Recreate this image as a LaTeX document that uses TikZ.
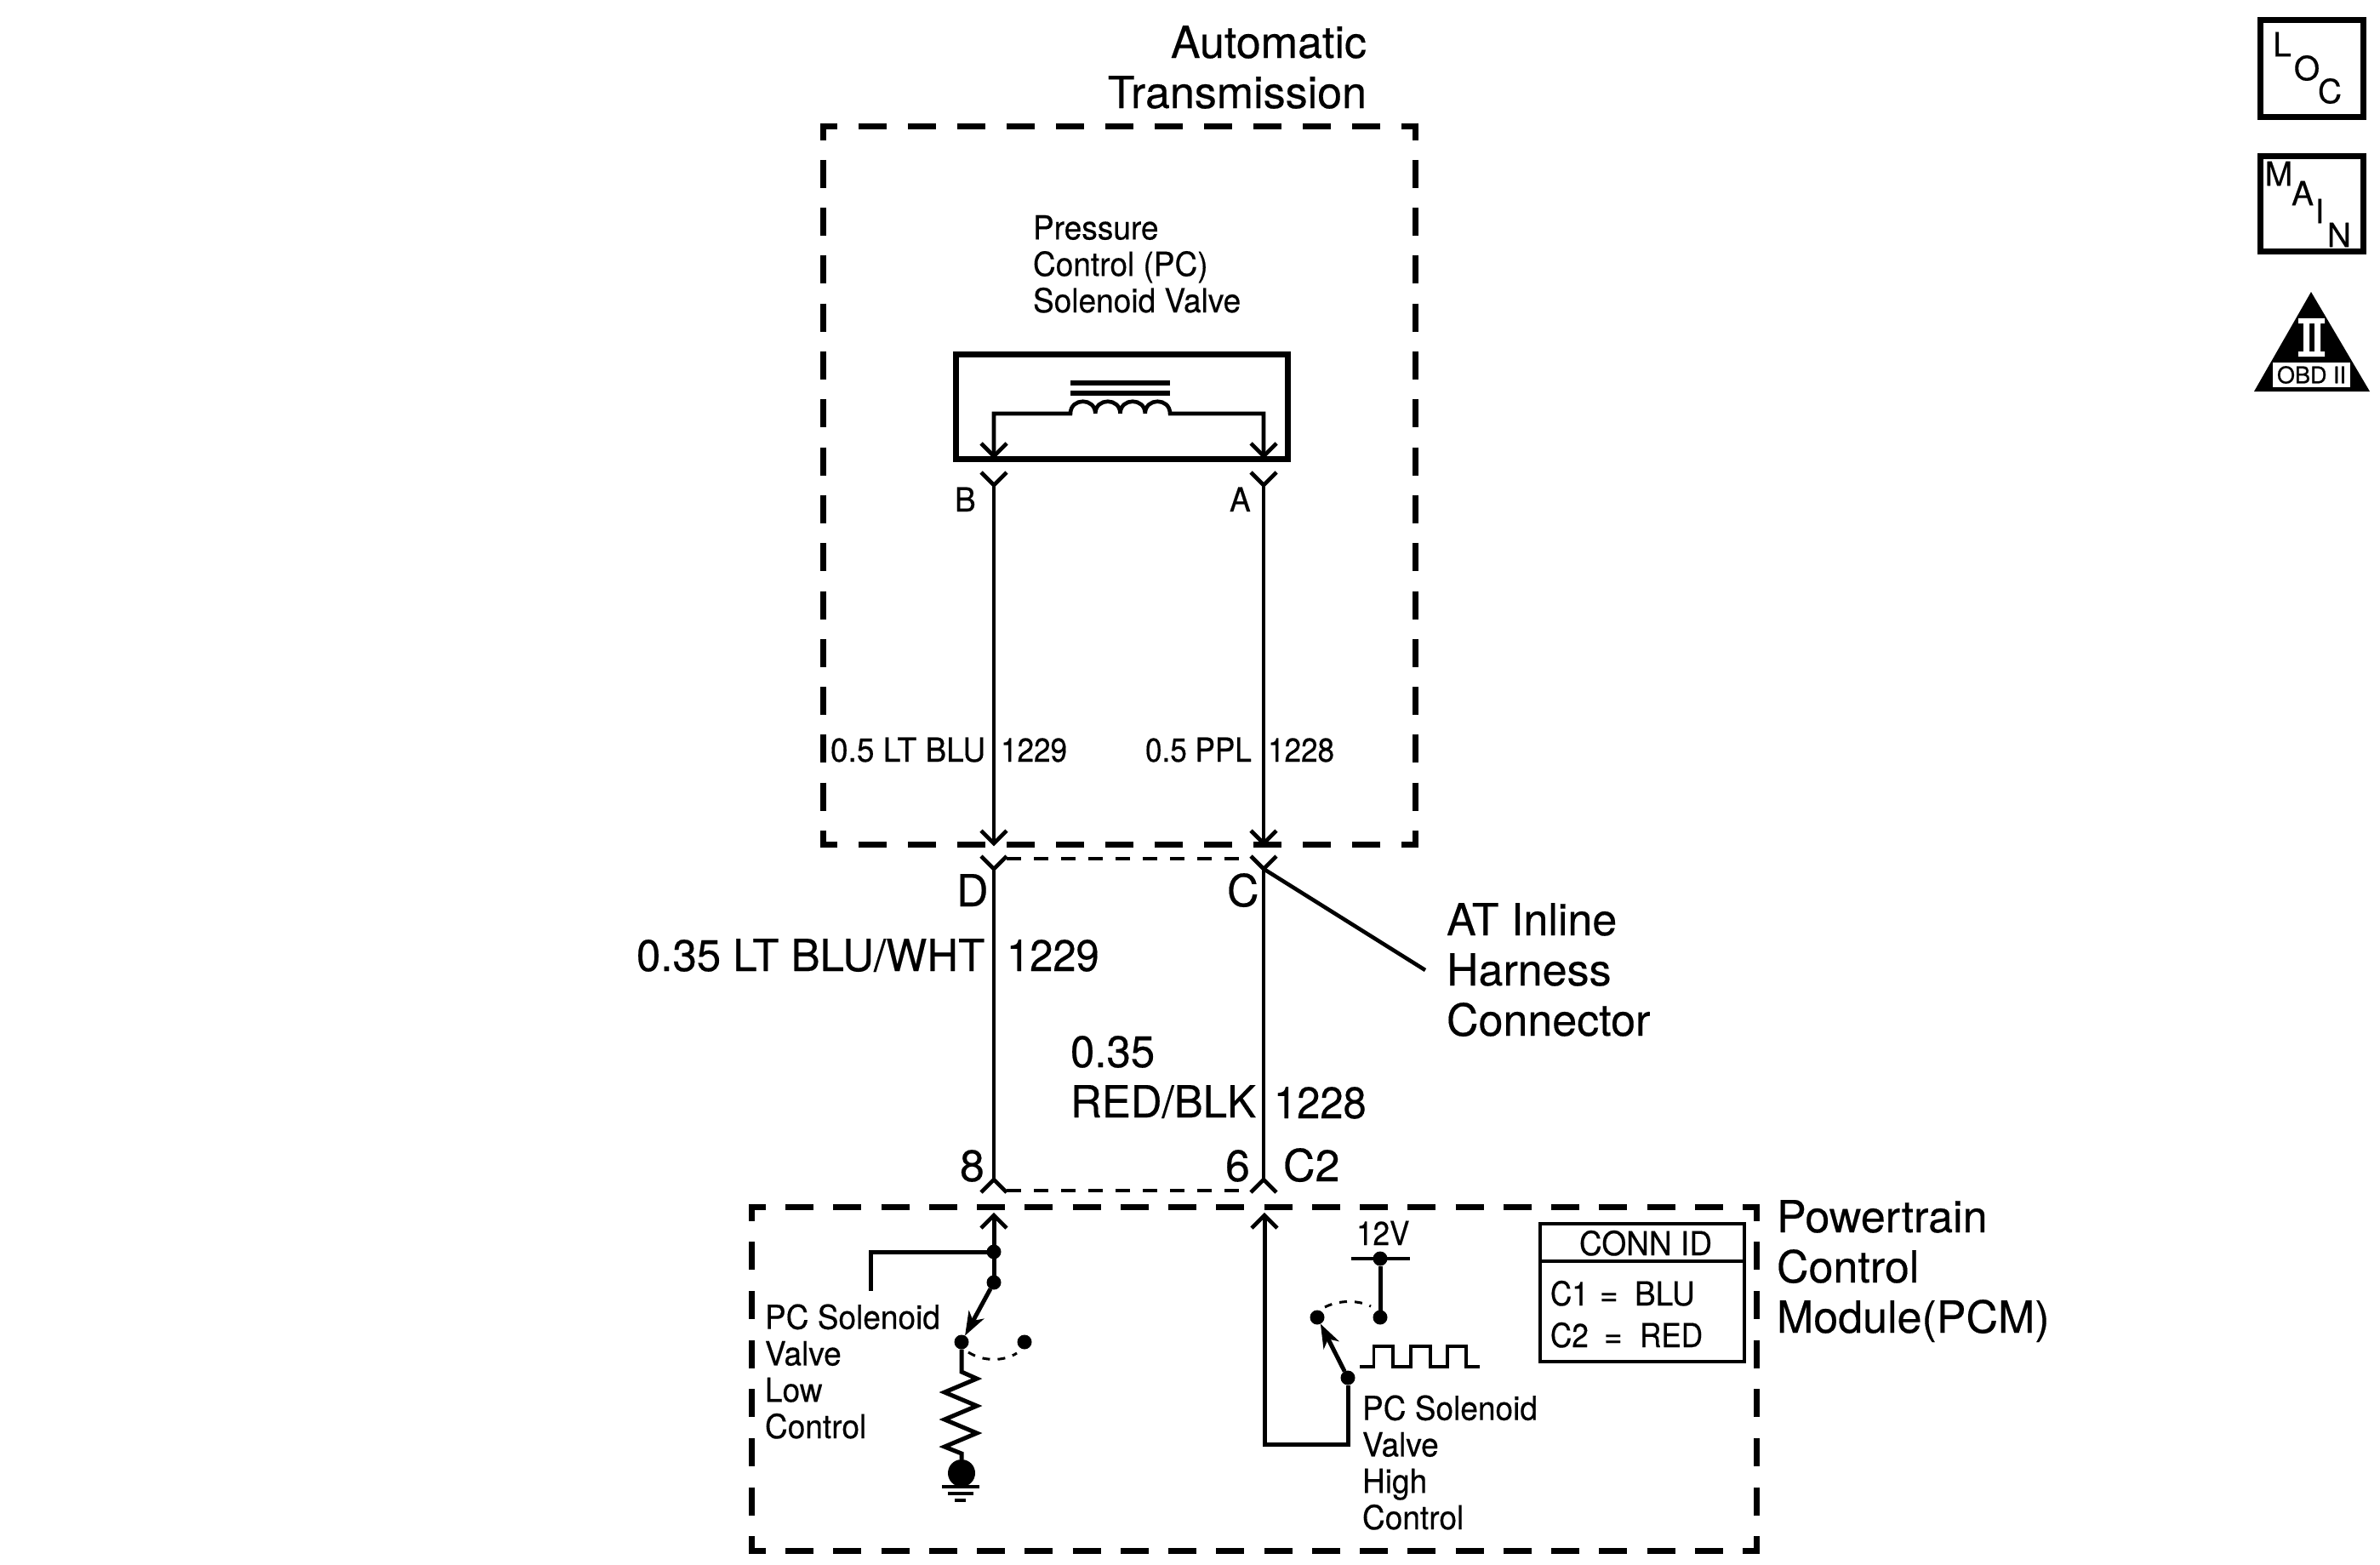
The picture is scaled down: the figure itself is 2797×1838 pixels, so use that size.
\documentclass[tikz,border=0pt]{standalone}
\usepackage{fontspec}
\setmainfont{TeX Gyre Heros}
\newfontfamily\hvBig[FakeBold=0.35]{TeX Gyre Heros}
\newfontfamily\hvBigMix[FakeBold=0.35,FakeStretch=0.98]{TeX Gyre Heros}
\newfontfamily\hvBigNum[FakeBold=0.35,FakeStretch=0.94]{TeX Gyre Heros}
\newfontfamily\hvMid[FakeBold=0.4,FakeStretch=0.95]{TeX Gyre Heros}
\newfontfamily\hvNum[FakeBold=0.4,FakeStretch=0.9]{TeX Gyre Heros}
\newfontfamily\hvObd[FakeBold=0.8]{TeX Gyre Heros}
\usetikzlibrary{arrows.meta}
\tikzset{
  wire/.style={line width=2.3pt,line join=miter},
  heavy/.style={line width=2.5pt,line join=miter},
  thinwire/.style={line width=1.8pt,line join=miter},
  box/.style={line width=3.5pt},
  hdash/.style={line width=3.5pt,dash pattern=on 16.5pt off #1pt,dash phase=6.5pt},
  mdash/.style={line width=1.8pt,dash pattern=on 8.5pt off 7.5pt},
  sdash/.style={line width=1.5pt,dash pattern=on 4.5pt off 4.5pt},
  dot/.style={circle,fill=black,inner sep=0pt,outer sep=0pt,minimum size=8.5pt},
  arm/.style={line width=2.5pt,-{Stealth[length=14pt,width=10pt,inset=4pt]}},
  big/.style={inner sep=0pt,outer sep=0pt,anchor=base west,align=left,font=\hvBig\fontsize{26}{29.5}\selectfont},
  bigmix/.style={big,font=\hvBigMix\fontsize{26}{29.5}\selectfont},
  bignum/.style={big,font=\hvBigNum\fontsize{26}{29.5}\selectfont},
  mid/.style={inner sep=0pt,outer sep=0pt,anchor=base west,align=left,font=\hvMid\fontsize{19.5}{21.4}\selectfont},
  midnum/.style={mid,font=\hvNum\fontsize{19.5}{21.4}\selectfont},
  letter/.style={inner sep=0pt,outer sep=0pt,anchor=center,font=\hvBig\fontsize{19.5}{21}\selectfont},
}
\newcommand{\vmark}[1]{\draw[wire] (#1) ++(-15,-15) -- ++(15,15) -- ++(15,-15);}
\newcommand{\hatmark}[1]{\draw[wire] (#1) ++(-15,15) -- ++(15,-15) -- ++(15,15);}
\begin{document}
\begin{tikzpicture}[x=0.5pt,y=-0.5pt]
\useasboundingbox (0,0) rectangle (2797,1838);
% dashed enclosures
\draw[hdash=12.5] (964,148) -- (1667,148);
\draw[hdash=12.5] (964,992) -- (1667,992);
\draw[hdash=11.65] (967.5,144.5) -- (967.5,995.5);
\draw[hdash=11.65] (1663.5,144.5) -- (1663.5,995.5);
\draw[hdash=11.62] (880,1418) -- (2067,1418);
\draw[hdash=11.62] (880,1822) -- (2067,1822);
\draw[hdash=12.35] (883,1414.5) -- (883,1825.5);
\draw[hdash=12.35] (2064,1414.5) -- (2064,1825.5);
% solenoid
\draw[box] (1123.5,416) rectangle (1513.5,539);
\draw[line width=2.6pt] (1258,450) -- (1375,450) (1258,462) -- (1375,462);
\coordinate (coilL) at (1258,486);
\coordinate (coilR) at (1375,486);
\coordinate (tipB) at (1168,536);
\coordinate (tipA) at (1485,536);
\coordinate (cornerB) at (1168,486);
\coordinate (cornerA) at (1485,486);
\draw[wire] (tipB) -- (cornerB) -- (coilL)
  .. controls +(0,-19) and +(0,-19) .. ++(29.25,0)
  .. controls +(0,-19) and +(0,-19) .. ++(29.25,0)
  .. controls +(0,-19) and +(0,-19) .. ++(29.25,0)
  .. controls +(0,-19) and +(0,-19) .. (coilR) -- (cornerA) -- (tipA);
\vmark{tipB}\vmark{tipA}
% harness upper
\coordinate (sockB) at (1168,570);
\coordinate (sockA) at (1485,570);
\coordinate (inD) at (1168,991);
\coordinate (inC) at (1485,991);
\draw[wire] (sockB) -- (inD);
\draw[wire] (sockA) -- (inC);
\vmark{sockB}\vmark{sockA}\vmark{inD}\vmark{inC}
% harness lower
\coordinate (sockD) at (1168,1021);
\coordinate (sockC) at (1485,1021);
\coordinate (pin8) at (1168,1386);
\coordinate (pin6) at (1485,1386);
\draw[wire] (sockD) -- (pin8);
\draw[wire] (sockC) -- (pin6);
\vmark{sockD}\vmark{sockC}\hatmark{pin8}\hatmark{pin6}
\coordinate (dTopL) at (1183,1009);
\coordinate (dTopR) at (1470,1009);
\coordinate (dBotL) at (1183,1399);
\coordinate (dBotR) at (1470,1399);
\draw[mdash] (dTopL) -- (dTopR);
\draw[mdash] (dBotL) -- (dBotR);
\coordinate (leader) at (1675,1140);
\draw[wire] (sockC) -- (leader);
% PCM low side
\coordinate (pcm8) at (1168,1428);
\node[dot] (j1) at (1168,1471) {};
\node[dot] (j2) at (1168,1507) {};
\node[dot] (j3) at (1130,1577) {};
\node[dot] (j4) at (1204,1577) {};
\coordinate (sense) at (1023,1517);
\coordinate (senseC) at (1023,1471);
\draw[heavy] (pcm8) -- (j2);
\draw[heavy] (j1) -- (senseC) -- (sense);
\hatmark{pcm8}
\draw[arm] (j2) -- (j3);
\draw[sdash] (1138,1589) .. controls (1155,1600) and (1180,1600) .. (1195,1590);
\node[circle,fill=black,inner sep=0pt,outer sep=0pt,minimum size=16pt] (gnd) at (1130,1731) {};
\draw[heavy] (j3) -- (1130,1612) -- (1148,1620) -- (1110,1636) -- (1148,1652) -- (1110,1668) -- (1148,1684) -- (1110,1700) -- (1130,1708) -- (gnd);
\draw[line width=1.7pt] (1107,1747) -- (1151,1747) (1114,1755) -- (1144,1755) (1122,1763) -- (1135,1763);
% PCM high side
\coordinate (pcm6) at (1486,1428);
\coordinate (lowL) at (1486,1697);
\coordinate (lowR) at (1584,1697);
\node[dot] (k1) at (1584,1619) {};
\node[dot] (k2) at (1548,1548) {};
\node[dot] (k3) at (1622,1548) {};
\node[dot] (k4) at (1622,1479) {};
\draw[heavy] (pcm6) -- (lowL) -- (lowR) -- (k1);
\hatmark{pcm6}
\draw[arm] (k1) -- (k2);
\draw[heavy] (k3) -- (k4);
\coordinate (barL) at (1588,1479);
\coordinate (barR) at (1657,1479);
\draw[thinwire] (barL) -- (barR);
\draw[sdash] (1557,1536) .. controls (1572,1528) and (1595,1527) .. (1611,1535);
\draw[thinwire] (1598,1606) -- (1614.5,1606) -- (1614.5,1582) -- (1637,1582) -- (1637,1606) -- (1658,1606) -- (1658,1582) -- (1681,1582) -- (1681,1606) -- (1701,1606) -- (1701,1582) -- (1723,1582) -- (1723,1606) -- (1739,1606);
% conn id
\draw[wire] (1810,1438) rectangle (2050,1600);
\draw[wire] (1810,1482) -- (2050,1482);
% texts
\node[big,anchor=base east,align=right] (tAuto) at (1606,127) {Automatic\\Transmission};
\node[mid] (tPress) at (1214,367) {Pressure\\Control (PC)\\Solenoid Valve};
\node[mid] (tB) at (1122,601) {B};
\node[mid] (tA) at (1445,601) {A};
\node[mid] (tW1) at (976,895) {0.5 LT BLU};
\node[midnum] (tN1) at (1176,895) {1229};
\node[midnum] (tW2) at (1346,895) {0.5 PPL};
\node[midnum] (tN2) at (1490,895) {1228};
\node[big] (tD) at (1124,1065) {D};
\node[big] (tC) at (1442,1065) {C};
\node[bigmix] (tW3) at (748,1141) {0.35 LT BLU/WHT};
\node[bignum] (tN3) at (1183,1141) {1229};
\node[big] (tAT) at (1700,1217) {AT Inline\\Harness\\Connector};
\node[bigmix] (tW4) at (1258,1313) {0.35\\RED/BLK};
\node[bignum] (tN4) at (1497,1314) {1228};
\node[big] (t8) at (1128,1388) {8};
\node[big] (t6) at (1440,1388) {6};
\node[big] (tC2) at (1508,1388) {C2};
\node[big] (tPCM) at (2088,1566) {Powertrain\\Control\\Module(PCM)};
\node[mid] (tLow) at (899,1690) {PC Solenoid\\Valve\\Low\\Control};
\node[mid] (tHigh) at (1601,1797) {PC Solenoid\\Valve\\High\\Control};
\node[midnum] (t12) at (1594,1463) {12V};
\node[mid,anchor=base] (tConn) at (1934,1475) {CONN ID};
\node[midnum] (tC1) at (1822,1534) {C1};
\node[mid] (tEq1) at (1880,1534) {=};
\node[mid] (tBlu) at (1921,1534) {BLU};
\node[midnum] (tC22) at (1822,1583) {C2};
\node[mid] (tEq2) at (1885,1583) {=};
\node[midnum] (tRed) at (1927,1583) {RED};
% LOC / MAIN / OBD II
\draw[box] (2656.5,23.5) rectangle (2777.5,137.5);
\node[letter] (lL) at (2682,52) {L};
\node[letter] (lO) at (2711,80) {O};
\node[letter] (lC) at (2738,107) {C};
\draw[box] (2656.5,183.5) rectangle (2777.5,295.5);
\node[letter] (mM) at (2678,204) {M};
\node[letter] (mA) at (2706,227) {A};
\node[letter] (mI) at (2726,248) {I};
\node[letter] (mN) at (2749,276) {N};
\fill[black] (2716,343) -- (2785,460) -- (2649,460) -- cycle;
\fill[white] (2701,374) rectangle (2732,380) (2701,413) rectangle (2732,419)
  (2707,380) rectangle (2714,413) (2720,380) rectangle (2727,413);
\node[fill=white,minimum width=45.5pt,minimum height=14.5pt,inner sep=0pt,outer sep=0pt,font=\hvObd\fontsize{13.5}{14}\selectfont] (obd) at (2716.5,440.5) {OBD II};
\end{tikzpicture}
\end{document}
